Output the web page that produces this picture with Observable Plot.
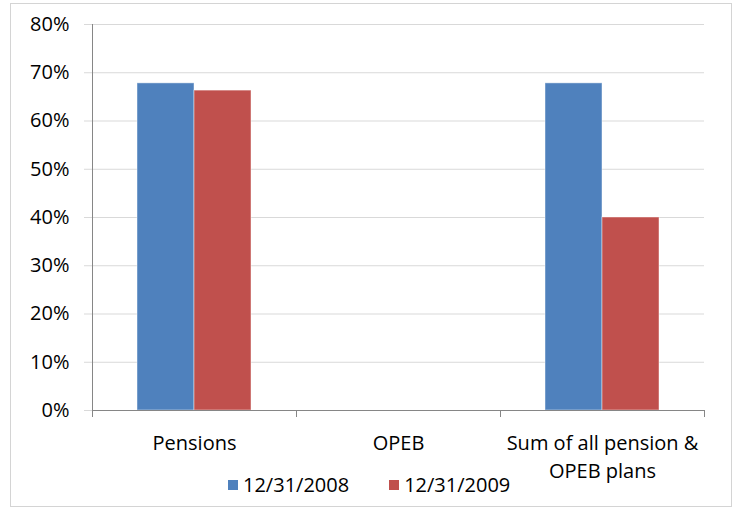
<!DOCTYPE html>
<html>
<head>
<meta charset="utf-8">
<script src="https://cdn.jsdelivr.net/npm/d3@7"></script>
<script src="https://cdn.jsdelivr.net/npm/@observablehq/plot@0.6"></script>
<style>
  html, body { margin: 0; padding: 0; background: #fff; }
  #wrap { position: relative; width: 740px; height: 511px; font-family: "Open Sans", sans-serif; }
  #border { position: absolute; left: 10px; top: 3px; width: 722px; height: 504px; border: 1px solid #d4d4d4; box-sizing: border-box; }
  #chart { position: absolute; left: 0; top: 0; }
  #legend { position: absolute; left: 228px; top: 471px; display: flex; align-items: center; font-size: 20px; color: #000; }
  .item { display: flex; align-items: center; margin-right: 40px; }
  .sw { width: 10px; height: 10px; margin-right: 5px; }
</style>
</head>
<body>
<div id="wrap">
  <div id="border"></div>
  <div id="chart"></div>
  <div id="legend"></div>
</div>
<script>
const categories = ["Pensions", "OPEB", "Sum of all pension & OPEB plans"];
const categoryLabels = ["Pensions", "OPEB", "Sum of all pension &\nOPEB plans"];
const series = ["12/31/2008", "12/31/2009"];
const values2008 = [0.678, null, 0.678];
const values2009 = [0.663, null, 0.400];
const yTicks = [0, 0.1, 0.2, 0.3, 0.4, 0.5, 0.6, 0.7, 0.8];
const colors = ["#4F81BD", "#C0504D"];

const data = [];
categories.forEach((c, i) => {
  data.push({cat: c, series: series[0], value: values2008[i]});
  data.push({cat: c, series: series[1], value: values2009[i]});
});
const labelOf = new Map(categories.map((c, i) => [c, categoryLabels[i]]));
// one row per category so that every facet (including OPEB) is non-empty
const grid = [];
categories.forEach(c => yTicks.forEach(t => grid.push({cat: c, tick: t})));

const chart = Plot.plot({
  width: 740,
  height: 470,
  marginLeft: 91,
  marginRight: 35,
  marginTop: 24,
  marginBottom: 60,
  style: {fontFamily: "Open Sans, sans-serif", fontSize: "20px", color: "#000", background: "transparent", overflow: "visible"},
  fx: {domain: categories, padding: 0, label: null},
  x: {domain: series, paddingInner: 0, paddingOuter: 0.765, axis: null},
  y: {domain: [0, 0.8], label: null},
  color: {domain: series, range: colors},
  marks: [
    Plot.ruleY(grid, {fx: "cat", y: "tick", stroke: "#d9d9d9"}),
    Plot.axisY(yTicks, {tickSize: 8, tickPadding: 15, stroke: "#d9d9d9", fill: "#000", tickFormat: d3.format(".0%"), label: null, fontSize: 20}),
    Plot.barY(data.filter(d => d.value != null), {fx: "cat", x: "series", y: "value", fill: "series", stroke: "#fff", strokeOpacity: 0.45, strokeWidth: 1}),
    Plot.ruleY(categories, {fx: d => d, y: () => 0, stroke: "#868686"}),
    Plot.frame({anchor: "left", stroke: "#868686", facetAnchor: "left"}),
    Plot.frame({anchor: "left", stroke: "#868686", insetTop: 386, insetBottom: -6}),
    Plot.frame({anchor: "right", stroke: "#868686", insetTop: 386, insetBottom: -6, facetAnchor: "right"}),
    Plot.axisFx({anchor: "bottom", tickSize: 0, tickPadding: 20, lineHeight: 1.4, label: null, tickFormat: d => labelOf.get(d), fontSize: 20, fill: "#000"})
  ]
});
document.getElementById("chart").appendChild(chart);

const legend = document.getElementById("legend");
series.forEach((s, i) => {
  const item = document.createElement("div");
  item.className = "item";
  const sw = document.createElement("div");
  sw.className = "sw";
  sw.style.background = colors[i];
  const t = document.createElement("span");
  t.textContent = s;
  item.appendChild(sw);
  item.appendChild(t);
  legend.appendChild(item);
});
</script>
</body>
</html>
